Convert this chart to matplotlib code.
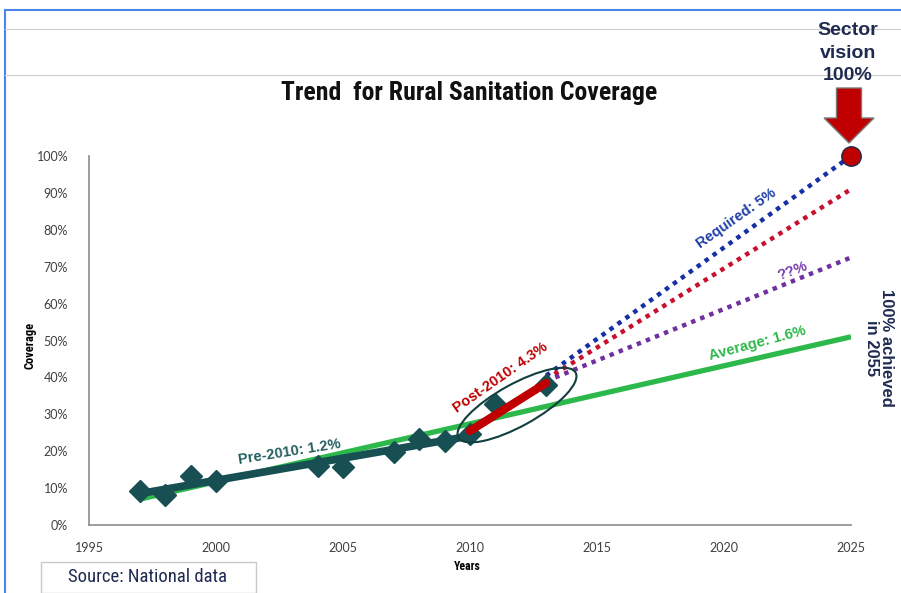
import matplotlib
matplotlib.use("Agg")
import matplotlib.pyplot as plt
from matplotlib import font_manager
from matplotlib.patches import Ellipse, FancyArrow, Rectangle
from matplotlib.lines import Line2D
from matplotlib.transforms import IdentityTransform

# ---- data ----
years = [1997, 1998, 1999, 2000, 2004, 2005, 2007, 2008, 2009, 2010, 2011, 2013]
coverage = [9.2, 8.1, 13.3, 11.9, 16.0, 15.7, 19.8, 23.3, 22.8, 24.7, 32.8, 37.9]

pre_years = [1997, 2010]
pre_vals = [8.5, 24.1]
avg_years = [1997, 2025]
avg_vals = [7.0, 51.0]
post_years = [2010, 2013]
post_vals = [25.5, 38.5]
proj_years = [2013, 2025]
required_vals = [40.5, 100.0]
post_proj_vals = [39.5, 91.0]
unknown_vals = [39.0, 72.5]
vision_year = 2025
vision_val = 100.0

xticks = [1995, 2000, 2005, 2010, 2015, 2020, 2025]
yticks = list(range(0, 101, 10))

avail = {f.name for f in font_manager.fontManager.ttflist}
def pick(*names):
    for n in names:
        if n in avail:
            return n
    return "DejaVu Sans"
narrow = pick("Liberation Sans Narrow", "Roboto Condensed", "Open Sans", "Lato")
tickfont = pick("Lato", "Open Sans", "DejaVu Sans")
arial = pick("Liberation Sans", "Arial", "DejaVu Sans")

W, H = 901, 593
fig = plt.figure(figsize=(W / 100, H / 100), dpi=100)
fig.patch.set_facecolor("white")

def fx(px):
    return px / W
def fy(py):
    return 1 - py / H

# slide decorations
fig.add_artist(Line2D([fx(5), fx(901)], [fy(10), fy(10)], color="#4A86E8", lw=1.5))
fig.add_artist(Line2D([fx(5), fx(5)], [fy(10), fy(593)], color="#4A86E8", lw=1.5))
fig.add_artist(Line2D([fx(5), fx(901)], [fy(29), fy(29)], color="#d0d0d0", lw=0.8))
fig.add_artist(Line2D([fx(5), fx(901)], [fy(75), fy(75)], color="#d0d0d0", lw=0.8))

ax = fig.add_axes([fx(89), fy(525), fx(851) - fx(89), fy(156) - fy(525)])
ax.set_xlim(1995, 2025)
ax.set_ylim(0, 100)
for s in ["top", "right"]:
    ax.spines[s].set_visible(False)
for s in ["left", "bottom"]:
    ax.spines[s].set_color("#8c8c8c")
    ax.spines[s].set_linewidth(1.2)
ax.set_xticks(xticks)
ax.set_yticks(yticks)
ax.set_yticklabels([f"{v}%" for v in yticks])
ax.tick_params(length=0, labelsize=9, colors="#404040", pad=15)
for lab in ax.get_xticklabels() + ax.get_yticklabels():
    lab.set_fontfamily(tickfont)
ax.tick_params(axis="x", pad=12)

fig.text(fx(467), fy(567), "Years", ha="center", va="center", fontsize=8.5,
         fontweight="bold", family=narrow)
fig.text(fx(30), fy(345), "Coverage", ha="center", va="center", rotation=90, fontsize=9,
         fontweight="bold", family=narrow)

# lines
ax.plot(avg_years, avg_vals, color="#2DB84B", lw=3.8, solid_capstyle="butt", zorder=2)
ax.plot(pre_years, pre_vals, color="#174F52", lw=5.5, solid_capstyle="butt", zorder=3)
ax.plot(years, coverage, ls="none", marker="D", ms=11.5, color="#174F52", zorder=4, clip_on=False)
ax.plot(post_years, post_vals, color="#C00000", lw=6, solid_capstyle="round", zorder=5)

dot = (0, (1, 1.2))
ax.plot(proj_years, required_vals, color="#1530A6", lw=3.2, ls=dot, zorder=3, clip_on=False)
ax.plot(proj_years, post_proj_vals, color="#C8102E", lw=3.2, ls=dot, zorder=3, clip_on=False)
ax.plot(proj_years, unknown_vals, color="#7030A0", lw=3.2, ls=dot, zorder=3, clip_on=False)

ax.plot([vision_year], [vision_val], marker="o", ms=14, color="#C00000", mec="#1F2A50", mew=1,
        zorder=6, clip_on=False)

# ellipse around post-2010 points (in pixel space)
fig.canvas.draw()
cx, cy = ax.transData.transform((2011.85, 32.5))
ell = Ellipse((cx, cy), 134, 42, angle=29, fill=False, edgecolor="#123E3E", lw=1.5,
              transform=IdentityTransform(), zorder=7)
fig.add_artist(ell)

# arrow (figure coords)
arr = FancyArrow(fx(849), fy(88), 0, fy(143) - fy(88), width=fx(25),
                 head_width=fx(50), head_length=(fy(118) - fy(143)), length_includes_head=True,
                 transform=fig.transFigure, facecolor="#C00000", edgecolor="#7a7a7a", lw=1)
fig.add_artist(arr)

# texts
fig.text(fx(469), fy(93), "Trend  for Rural Sanitation Coverage", ha="center", va="center",
         fontsize=18.5, fontweight="bold", family=narrow, color="#111111")
fig.text(fx(848), fy(53), "Sector\nvision\n100%", ha="center", va="center", fontsize=14,
         fontweight="bold", family=arial, color="#1F2A50", linespacing=1.4)

kw = dict(fontweight="bold", family=arial, fontsize=10.5, ha="center", va="center")
ax.text(2002.9, 19.8, "Pre-2010: 1.2%", color="#235F5F", rotation=9, **kw)
ax.text(2011.2, 39.8, "Post-2010: 4.3%", color="#C00000", rotation=35, **kw)
ax.text(2020.5, 83.2, "Required: 5%", color="#1E3DA8", rotation=35, **kw)
ax.text(2022.7, 68.8, "??%", color="#7A3DB0", rotation=20, **kw)
ax.text(2021.3, 49.3, "Average: 1.6%", color="#2DB84B", rotation=15, **kw)
fig.text(fx(879), fy(348), "100% achieved\nin 2055", rotation=-90, ha="center", va="center",
         fontsize=12, fontweight="bold", family=arial, color="#1F2A50", linespacing=1.0)

# source box
fig.add_artist(Rectangle((fx(41), fy(593)), fx(256) - fx(41), fy(562) - fy(593),
                         transform=fig.transFigure, fill=False, edgecolor="#c8c8c8", lw=1))
fig.text(fx(148), fy(577), "Source: National data", ha="center", va="center", fontsize=13.5,
         family=narrow, color="#1F2A50")

fig.savefig("out.png", dpi=100)
